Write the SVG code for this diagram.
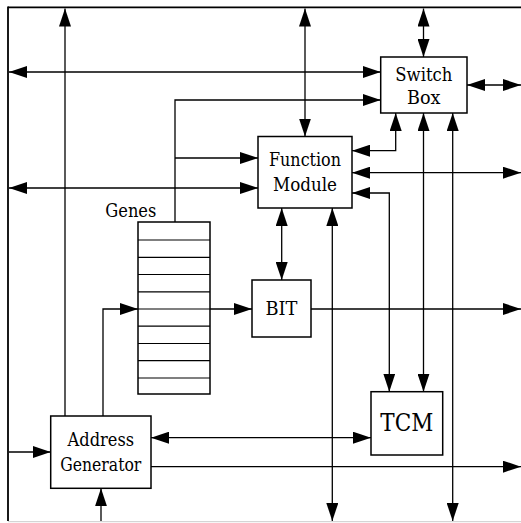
<svg xmlns="http://www.w3.org/2000/svg" width="521" height="523" viewBox="0 0 521 523">
<style>
.box{fill:#fff;stroke:#000;stroke-width:1.5}
.ln{fill:none;stroke:#000;stroke-width:1.3}
.e{marker-end:url(#ah)}
.b{marker-start:url(#as);marker-end:url(#ah)}
.t{font-family:"DejaVu Serif","Liberation Serif",serif;font-stretch:condensed;font-size:18.5px;text-anchor:middle;fill:#000}
.row{stroke:#000;stroke-width:1.2}
</style>
<defs>
<marker id="ah" markerUnits="userSpaceOnUse" markerWidth="18" markerHeight="12" refX="18" refY="6" orient="auto"><path d="M0,0 L18,6 L0,12 z" fill="#000"/></marker>
<marker id="as" markerUnits="userSpaceOnUse" markerWidth="18" markerHeight="12" refX="18" refY="6" orient="auto-start-reverse"><path d="M0,0 L18,6 L0,12 z" fill="#000"/></marker>
</defs>
<rect width="521" height="523" fill="#fff"/>
<g id="frame">
<line x1="8" y1="7.3" x2="521" y2="7.3" stroke="#000" stroke-width="1.8"/>
<line x1="8" y1="6.5" x2="8" y2="521" stroke="#000" stroke-width="1.8"/>
<line x1="8" y1="521.7" x2="521" y2="521.7" stroke="#ccc" stroke-width="1"/>
</g>
<g id="connectors">
<path class="ln e" d="M65,416 V8.5"/>
<path class="ln b" d="M9,72 H380.7"/>
<path class="ln e" d="M175,222 V100 H380.7"/>
<path class="ln e" d="M175,158 H258"/>
<path class="ln b" d="M9,188 H258"/>
<path class="ln b" d="M305,8.5 V136.5"/>
<path class="ln b" d="M423.5,8.5 V57"/>
<path class="ln b" d="M467,85 H521"/>
<path class="ln b" d="M395.7,113 V150.7 H352"/>
<path class="ln b" d="M423.5,113 V391.7"/>
<path class="ln b" d="M452.7,113 V521"/>
<path class="ln b" d="M352,172.7 H521"/>
<path class="ln b" d="M389.3,391.7 V193 H352"/>
<path class="ln b" d="M281.7,208 V280"/>
<path class="ln b" d="M332.3,208 V521"/>
<path class="ln e" d="M103,416 V309 H138"/>
<path class="ln e" d="M210,309 H252"/>
<path class="ln e" d="M311,309 H521"/>
<path class="ln b" d="M151,437.7 H371"/>
<path class="ln e" d="M151,466.7 H521"/>
<path class="ln e" d="M9,452 H50.7"/>
<path class="ln e" d="M101,521 V488.3"/>
</g>
<g id="switch-box">
<rect class="box" x="380.7" y="57" width="86.3" height="56"/>
<text class="t" x="423.8" y="80.7" textLength="57" lengthAdjust="spacingAndGlyphs">Switch</text>
<text class="t" x="423.8" y="103.7" textLength="33.5" lengthAdjust="spacingAndGlyphs">Box</text>
</g>
<g id="function-module">
<rect class="box" x="258" y="136.5" width="94" height="71.5"/>
<text class="t" x="305" y="166" textLength="72" lengthAdjust="spacingAndGlyphs">Function</text>
<text class="t" x="305" y="190.7" textLength="64" lengthAdjust="spacingAndGlyphs">Module</text>
</g>
<g id="genes">
<text class="t" x="130.8" y="217.3" textLength="51" lengthAdjust="spacingAndGlyphs">Genes</text>
<rect class="box" x="138" y="222" width="72" height="172"/>
<line class="row" x1="138" y1="240" x2="210" y2="240"/>
<line class="row" x1="138" y1="257.3" x2="210" y2="257.3"/>
<line class="row" x1="138" y1="274.5" x2="210" y2="274.5"/>
<line class="row" x1="138" y1="291.8" x2="210" y2="291.8"/>
<line class="row" x1="138" y1="309" x2="210" y2="309"/>
<line class="row" x1="138" y1="326.2" x2="210" y2="326.2"/>
<line class="row" x1="138" y1="343.5" x2="210" y2="343.5"/>
<line class="row" x1="138" y1="360.7" x2="210" y2="360.7"/>
<line class="row" x1="138" y1="378" x2="210" y2="378"/>
</g>
<g id="bit">
<rect class="box" x="252" y="280" width="59" height="57"/>
<text class="t" x="281.5" y="315" textLength="32" lengthAdjust="spacingAndGlyphs">BIT</text>
</g>
<g id="tcm">
<rect class="box" x="371" y="391.7" width="71.7" height="63.3"/>
<text class="t" x="406.8" y="431" style="font-size:24px" textLength="53" lengthAdjust="spacingAndGlyphs">TCM</text>
</g>
<g id="address-generator">
<rect class="box" x="50.7" y="416" width="100.3" height="72.3"/>
<text class="t" x="100.8" y="445.7" textLength="66.5" lengthAdjust="spacingAndGlyphs">Address</text>
<text class="t" x="100.8" y="470.7" textLength="81" lengthAdjust="spacingAndGlyphs">Generator</text>
</g>
</svg>
